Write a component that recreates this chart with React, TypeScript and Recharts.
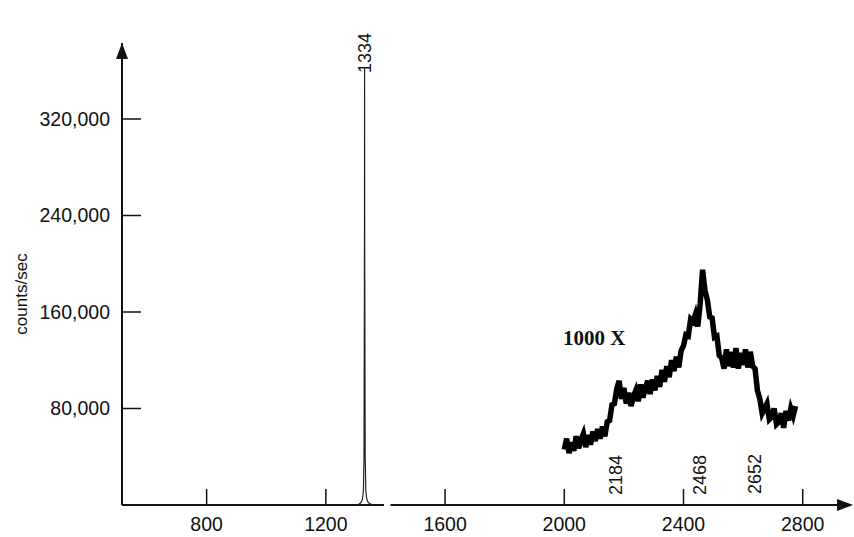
import React from "react";
import { LineChart, Line, XAxis, YAxis, ReferenceLine, ReferenceDot } from "recharts";

const X_MIN = 516;
const X_MAX = 2962;
const Y_MAX = 383000;

const xTicks = [800, 1200, 1600, 2000, 2400, 2800];
const yTicks = [80000, 160000, 240000, 320000];

// main spectrum: sharp 1334 line
const peakX = [1300, 1312, 1318, 1323, 1326, 1328, 1329.5, 1330, 1330.5, 1332, 1334, 1337, 1342, 1350, 1362];
const peakY = [0, 800, 2000, 5000, 12000, 40000, 200000, 362000, 200000, 40000, 12000, 5000, 2000, 800, 0];

// 1000x magnified region (values in thousands, display scale)
const zoomX = [
  2000, 2008, 2016, 2024, 2032, 2040, 2048, 2056, 2064, 2072, 2080, 2088, 2096, 2104, 2112, 2120,
  2128, 2136, 2144, 2152, 2160, 2168, 2176, 2184, 2192, 2200, 2208, 2216, 2224, 2232, 2240, 2248,
  2256, 2264, 2272, 2280, 2288, 2296, 2304, 2312, 2320, 2328, 2336, 2344, 2352, 2360, 2368, 2376,
  2384, 2392, 2400, 2408, 2416, 2424, 2432, 2440, 2448, 2456, 2464, 2472, 2480, 2488, 2496, 2504,
  2512, 2520, 2528, 2536, 2544, 2552, 2560, 2568, 2576, 2584, 2592, 2600, 2608, 2616, 2624, 2632,
  2640, 2648, 2656, 2664, 2672, 2680, 2688, 2696, 2704, 2712, 2720, 2728, 2736, 2744, 2752, 2760,
  2768, 2776,
];
const zoomK = [
  46, 55, 43, 52, 45, 57, 47, 54, 59, 48, 58, 50, 61, 53, 63, 55,
  65, 57, 69, 70, 83, 84, 96, 103, 88, 97, 84, 93, 82, 90, 95, 86,
  100, 89, 97, 103, 92, 104, 95, 107, 98, 112, 102, 115, 106, 120, 111, 123,
  114, 128, 132, 141, 140, 154, 152, 158, 148, 167, 195, 178, 170, 156, 155, 139,
  140, 124, 122, 113, 129, 115, 127, 114, 130, 113, 126, 116, 129, 114, 127, 115,
  113, 95, 88, 76, 80, 84, 71, 73, 80, 67, 69, 76, 64, 78, 70, 80,
  74, 82,
];

const annotations = [
  { x: 1330, y: 374700, text: "1334" },
  { x: 2175, y: 24900, text: "2184" },
  { x: 2454, y: 24900, text: "2468" },
  { x: 2639, y: 25700, text: "2652" },
];

const peakData = peakX.map((x, i) => ({ x, y: peakY[i] }));
const zoomData = zoomX.map((x, i) => ({ x, y: zoomK[i] * 1000 }));

const FONT = "'Liberation Sans', Arial, Helvetica, sans-serif";

const XTick = (props: any) => {
  const { x, y, payload } = props;
  return (
    <g>
      <line x1={x} x2={x} y1={y - 1} y2={y - 16} stroke="#111" strokeWidth={1.5} />
      <text x={x} y={y + 26} textAnchor="middle" fontFamily={FONT} fontSize={19.5} fill="#111">
        {payload.value}
      </text>
    </g>
  );
};

const YTick = (props: any) => {
  const { x, y, payload } = props;
  return (
    <g>
      <line x1={x} x2={x + 19} y1={y} y2={y} stroke="#111" strokeWidth={1.5} />
      <text x={x - 12} y={y} textAnchor="end" dominantBaseline="central" fontFamily={FONT} fontSize={19.5} fill="#111">
        {Number(payload.value).toLocaleString("en-US")}
      </text>
    </g>
  );
};

const RotLabel = (text: string) => (props: any) => {
  const { cx, cy } = props;
  return (
    <text
      x={cx}
      y={cy}
      transform={`rotate(-90 ${cx} ${cy})`}
      textAnchor="middle"
      dominantBaseline="central"
      fontFamily={FONT}
      fontSize={18}
      fill="#111"
    >
      {text}
    </text>
  );
};

const XArrow = (props: any) => {
  const { cx, cy } = props;
  return <polygon points={`${cx + 2},${cy} ${cx - 14},${cy - 6} ${cx - 14},${cy + 6}`} fill="#111" />;
};

const YArrow = (props: any) => {
  const { cx, cy } = props;
  return <polygon points={`${cx},${cy} ${cx - 6},${cy + 16} ${cx + 6},${cy + 16}`} fill="#111" />;
};

const MagLabel = (props: any) => {
  const { cx, cy } = props;
  return (
    <text x={cx} y={cy} fontFamily="'Liberation Serif', 'Times New Roman', serif" fontWeight="bold" fontSize={21} fill="#111">
      1000 X
    </text>
  );
};

export default function App() {
  return (
    <div style={{ position: "absolute", left: 0, top: 0, background: "#fff" }}>
      <LineChart width={854} height={537} margin={{ top: 43, right: 3, left: 0, bottom: 0 }}>
        <XAxis
          type="number"
          dataKey="x"
          domain={[X_MIN, X_MAX]}
          ticks={xTicks}
          allowDataOverflow
          axisLine={false}
          tickLine={false}
          tickSize={0}
          tickMargin={0}
          height={32}
          tick={<XTick />}
          interval={0}
        />
        <YAxis
          type="number"
          dataKey="y"
          domain={[0, Y_MAX]}
          ticks={yTicks}
          allowDataOverflow
          width={122}
          axisLine={{ stroke: "#111", strokeWidth: 2 }}
          tickLine={false}
          tickSize={0}
          tickMargin={0}
          tick={<YTick />}
          interval={0}
          label={{
            value: "counts/sec",
            angle: -90,
            position: "insideLeft",
            dx: 16,
            dy: 20,
            style: { fontFamily: FONT, fontSize: 17, fill: "#111", textAnchor: "middle" },
          }}
        />
        <ReferenceLine segment={[{ x: X_MIN, y: 0 }, { x: 1395, y: 0 }]} stroke="#111" strokeWidth={2} ifOverflow="visible" />
        <ReferenceLine segment={[{ x: 1417, y: 0 }, { x: X_MAX, y: 0 }]} stroke="#111" strokeWidth={2} ifOverflow="visible" />
        <Line data={peakData} dataKey="y" type="linear" stroke="#222" strokeWidth={1.2} dot={false} isAnimationActive={false} />
        <Line
          data={zoomData}
          dataKey="y"
          type="linear"
          stroke="#000"
          strokeWidth={5.5}
          strokeLinejoin="miter"
          dot={false}
          isAnimationActive={false}
        />
        <ReferenceDot x={X_MAX} y={0} r={1} ifOverflow="visible" shape={XArrow} />
        <ReferenceDot x={X_MIN} y={Y_MAX} r={1} ifOverflow="visible" shape={YArrow} />
        <ReferenceDot x={1996} y={132600} r={1} ifOverflow="visible" shape={MagLabel} />
        {annotations.map((a) => (
          <ReferenceDot key={a.text} x={a.x} y={a.y} r={1} ifOverflow="visible" shape={RotLabel(a.text)} />
        ))}
      </LineChart>
    </div>
  );
}
